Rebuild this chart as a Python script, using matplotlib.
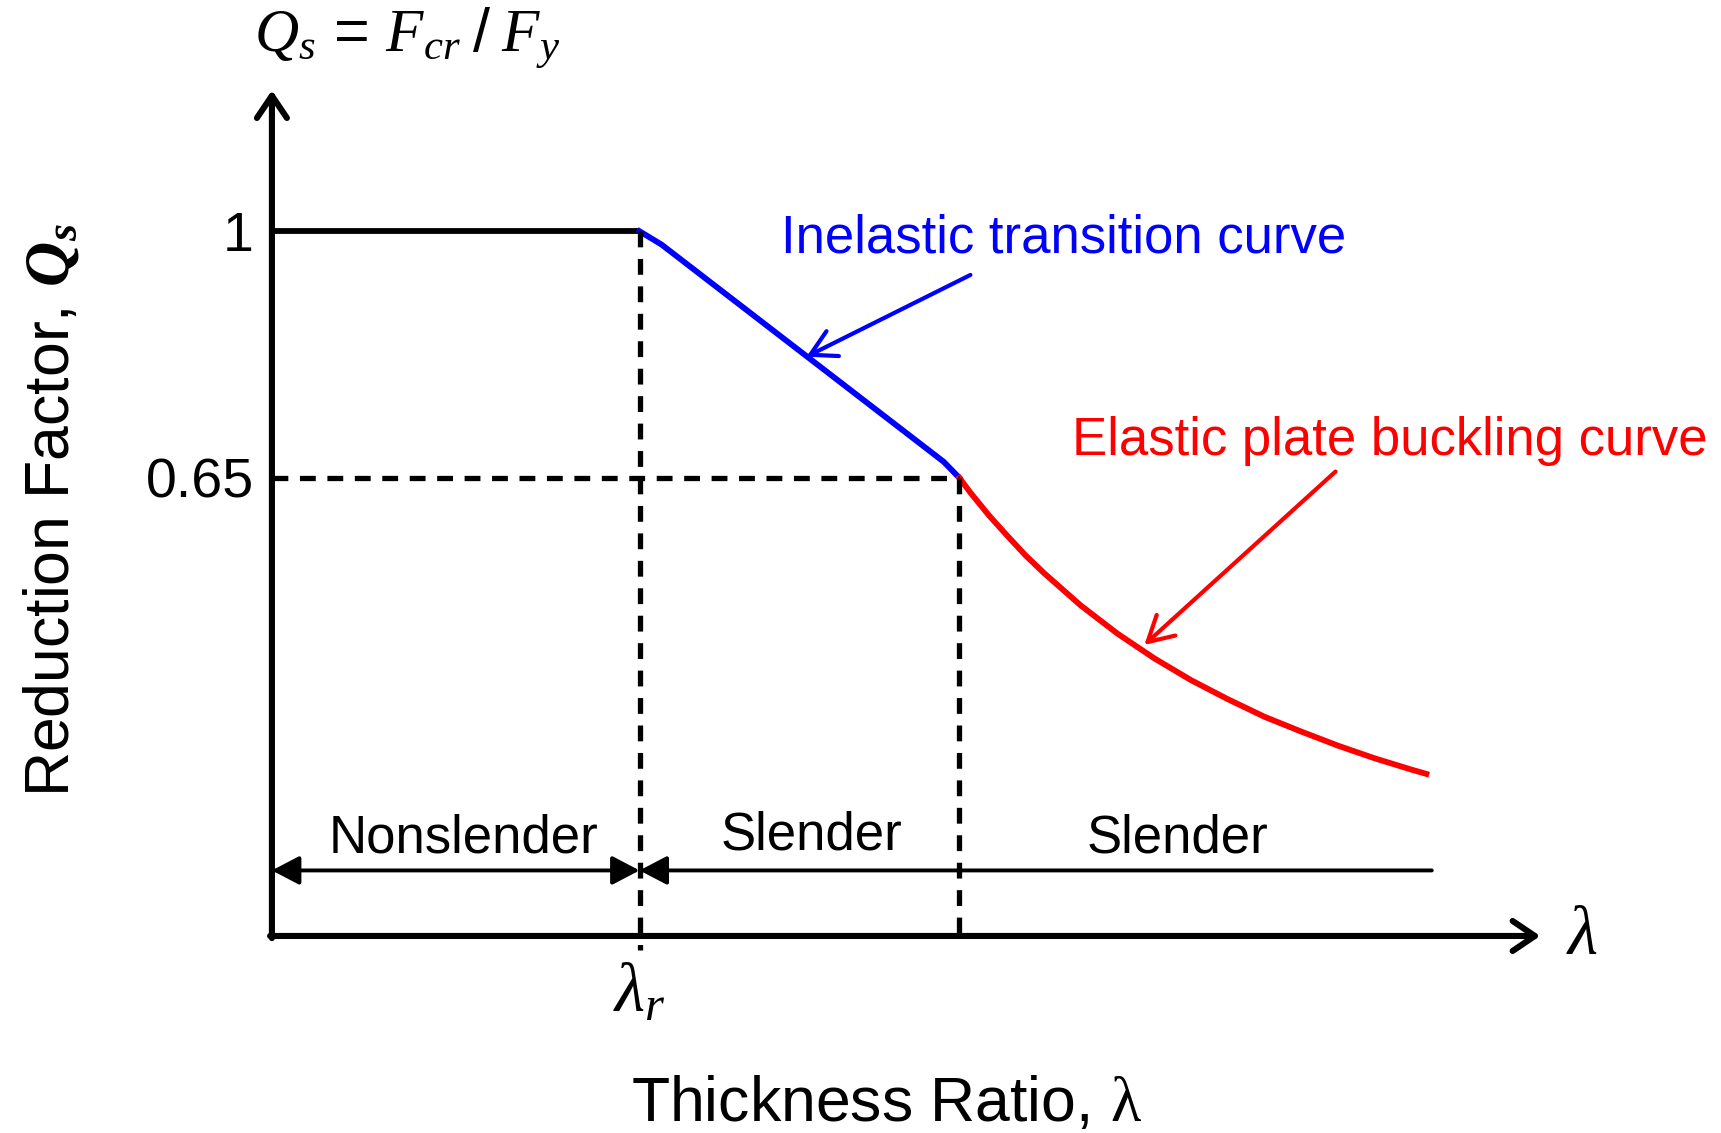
import matplotlib
matplotlib.use("Agg")
import matplotlib.pyplot as plt

plt.rcParams['font.family'] = ['Liberation Sans', 'DejaVu Sans']
plt.rcParams['mathtext.fontset'] = 'custom'
plt.rcParams['mathtext.rm'] = 'Liberation Sans'
plt.rcParams['mathtext.it'] = 'Liberation Serif:italic'
plt.rcParams['mathtext.bf'] = 'Liberation Serif:bold:italic'
plt.rcParams['mathtext.sf'] = 'Liberation Serif'

# limits (lambda_r = 1)
lam_r = 1.0
lam_2 = 1.87
q_limit = 0.65

# curves
flat_x = [0.0, 1.0]
flat_y = [1.0, 1.0]
inel_x = [1.0, 1.06, 1.827, 1.87]
inel_y = [1.0, 0.981, 0.673, 0.65]
elas_x = [1.87, 1.9, 1.95, 2.0, 2.05, 2.1, 2.2, 2.3, 2.4, 2.5, 2.6, 2.7, 2.8, 2.9,
          3.0, 3.1, 3.14]
elas_y = [0.650, 0.629, 0.597, 0.568, 0.540, 0.515, 0.469, 0.429, 0.394, 0.363,
          0.336, 0.311, 0.290, 0.270, 0.252, 0.236, 0.230]

region_y = 0.093
region_end = 3.155
x_max, y_max = 3.45, 1.2

fig = plt.figure(figsize=(17.21, 11.33), dpi=100)
ax = fig.add_axes([0.158, 0.1739, 0.737, 0.7464])
ax.set_xlim(0, x_max)
ax.set_ylim(0, y_max)
for s in ax.spines.values():
    s.set_visible(False)

# axes with arrows
axis_arrow = dict(arrowstyle='->,head_length=0.4,head_width=0.27', lw=4.4,
                  color='black', shrinkA=0, shrinkB=0, mutation_scale=40,
                  capstyle='round', joinstyle='round')
ax.annotate('', xy=(0, y_max), xytext=(0, -0.003), annotation_clip=False,
            arrowprops=axis_arrow)
ax.annotate('', xy=(x_max, 0), xytext=(-0.005, 0), annotation_clip=False,
            arrowprops=axis_arrow)

# curves
ax.plot(flat_x, flat_y, color='black', lw=4.2, solid_capstyle='butt')
ax.plot(inel_x, inel_y, color='#0000ff', lw=4.2, solid_joinstyle='round')
ax.plot(elas_x, elas_y, color='#ff0000', lw=4.2, solid_joinstyle='round')

# dashed guides
dash = (0, (3.0, 2.2))
ax.plot([0, lam_2], [q_limit, q_limit], color='black', lw=3.8, ls=dash)
ax.plot([lam_r, lam_r], [1.0, -0.02], color='black', lw=3.8, ls=dash, clip_on=False)
ax.plot([lam_2, lam_2], [q_limit, 0], color='black', lw=3.8, ls=dash)

# region arrows
ax.annotate('', xy=(lam_r, region_y), xytext=(0, region_y),
            arrowprops=dict(arrowstyle='<|-|>,head_length=0.42,head_width=0.22', lw=2.8,
                            color='black', shrinkA=0, shrinkB=0, mutation_scale=40))
ax.annotate('', xy=(lam_r, region_y), xytext=(region_end, region_y),
            arrowprops=dict(arrowstyle='-|>,head_length=0.42,head_width=0.22', lw=2.8,
                            color='black', shrinkA=0, shrinkB=0, mutation_scale=40))
ax.text(0.155, 0.118, 'Nonslender', fontsize=38, ha='left', va='baseline')
ax.text(1.221, 0.123, 'Slender', fontsize=38, ha='left', va='baseline')
ax.text(2.215, 0.118, 'Slender', fontsize=38, ha='left', va='baseline')

# curve annotations
ax.text(1.385, 0.970, 'Inelastic transition curve', fontsize=38, color='#0000ff',
        ha='left', va='baseline')
ax.annotate('', xy=(1.454, 0.822), xytext=(1.90, 0.938),
            arrowprops=dict(arrowstyle='->,head_length=0.45,head_width=0.25', lw=3.0,
                            color='#0000ff', shrinkA=0, shrinkB=0, mutation_scale=40))
ax.text(2.176, 0.682, 'Elastic plate buckling curve', fontsize=38, color='#ff0000',
        ha='left', va='baseline')
ax.annotate('', xy=(2.373, 0.413), xytext=(2.893, 0.659),
            arrowprops=dict(arrowstyle='->,head_length=0.45,head_width=0.25', lw=3.0,
                            color='#ff0000', shrinkA=0, shrinkB=0, mutation_scale=40))

# ticks
ax.set_yticks([q_limit, 1.0])
ax.set_yticklabels(['0.65', '1'])
ax.set_xticks([lam_r])
ax.set_xticklabels([r'$\lambda_r$'])
ax.tick_params(axis='y', length=0, pad=13, labelsize=40)
ax.tick_params(axis='x', length=0, pad=18, labelsize=50)

# labels
ax.text(3.564, 0.0, r'$\lambda$', fontsize=50, ha='center', va='center')
ax.text(-0.05, 1.255, r'$Q_s$ = $F_{cr}\;/\;F_y$', fontsize=44, ha='left', va='baseline')
ax.set_xlabel(r'Thickness Ratio, $\mathsf{\lambda}$', fontsize=45)
ax.xaxis.set_label_coords(0.4846, -0.219)
ax.xaxis.label.set_va('baseline')
ax.text(-0.160, 0.504, r'Reduction Factor, $\mathbf{Q_s}$', fontsize=45,
        rotation=90, rotation_mode='anchor', ha='center', va='baseline',
        transform=ax.transAxes)

fig.savefig('out.png', dpi=100)
